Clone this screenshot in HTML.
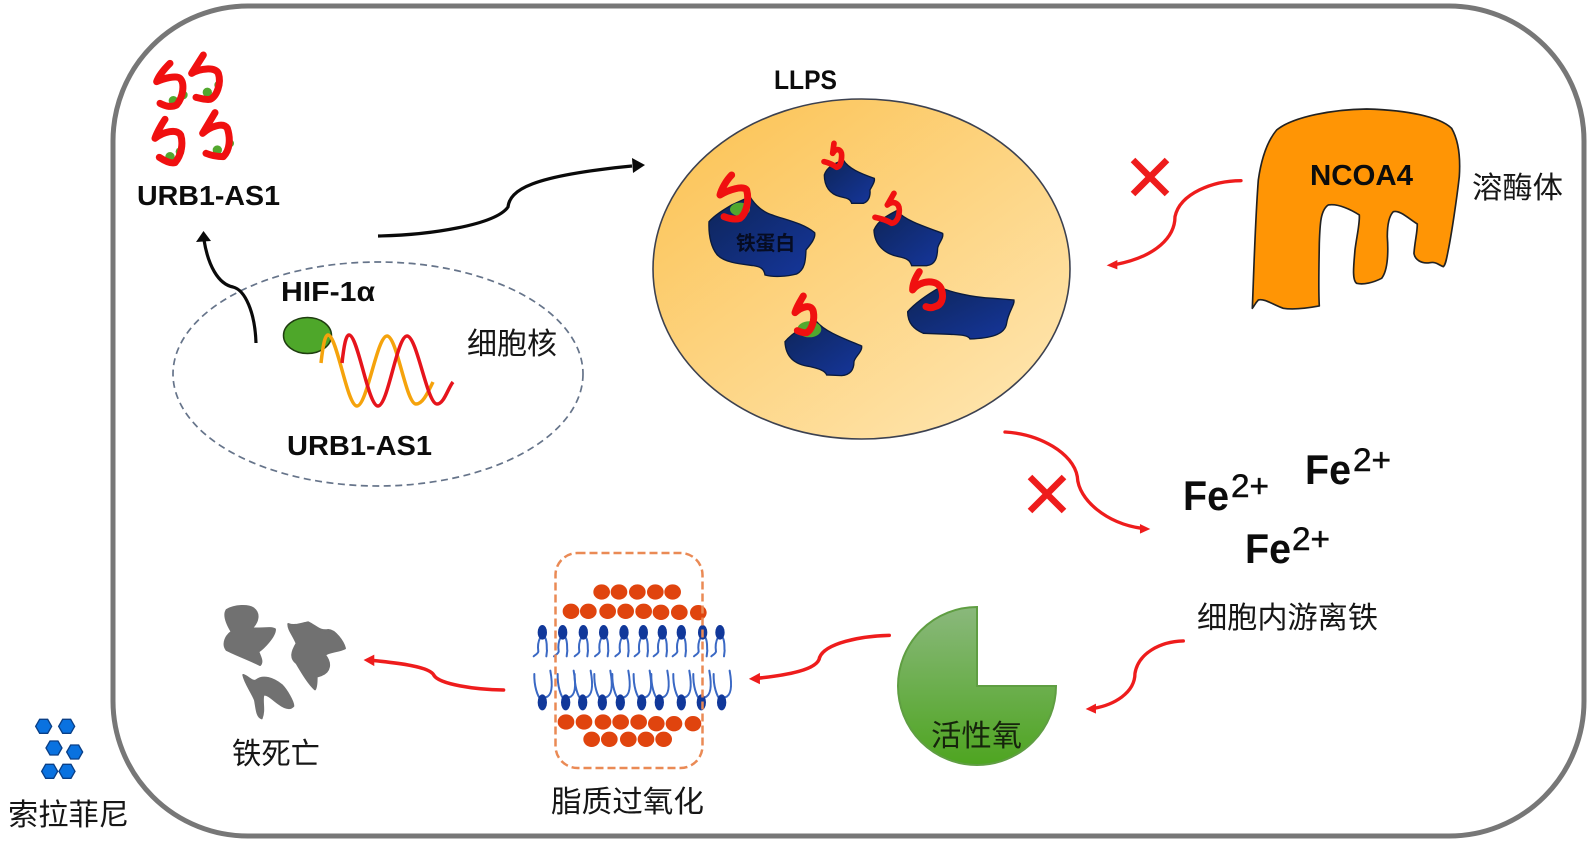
<!DOCTYPE html>
<html><head><meta charset="utf-8"><style>
html,body{margin:0;padding:0;background:#fff;width:1595px;height:844px;overflow:hidden}
svg{display:block}
.b{font-family:"Liberation Sans","Noto Sans CJK SC",sans-serif;font-weight:700;fill:#0c0c0c}
.c{font-family:"Liberation Sans","Noto Sans CJK SC",sans-serif;fill:#161616;font-size:30px}
.s{fill:none;stroke:#f01010;stroke-width:21;stroke-linecap:round;stroke-linejoin:round}
.g{fill:#52a82e}
.bl{fill:url(#blue);stroke:#0a1a3c;stroke-width:4}
.o{fill:#e0440e}
.h{fill:#0a72e0;stroke:#0a3f86;stroke-width:4}
.ra{fill:none;stroke:#ee1c1c;stroke-width:10;stroke-linecap:round}
.x{stroke:#ee1c1c;stroke-width:6.500;stroke-linecap:butt}
.t{fill:none;stroke:#3a68c4;stroke-width:6;stroke-linecap:round}
</style></head><body>
<svg width="1595" height="844" viewBox="0 0 1595 844" xmlns="http://www.w3.org/2000/svg">
<defs>
<linearGradient id="yel" x1="0.1" y1="0.1" x2="0.85" y2="0.95"><stop offset="0" stop-color="#fcc55a"/><stop offset="1" stop-color="#fee4ac"/></linearGradient>
<linearGradient id="blue" x1="0" y1="0" x2="1" y2="1"><stop offset="0" stop-color="#0e2558"/><stop offset="1" stop-color="#15369c"/></linearGradient>
<linearGradient id="grn" x1="0" y1="0" x2="0" y2="1"><stop offset="0" stop-color="#8ab87c"/><stop offset="1" stop-color="#4ea520"/></linearGradient>
<g id="lt"><path class="t" d="M-6,15 C-14,30 -14,45 -12,58 C-14,65 -22,68 -26,72 M8,15 C16,30 12,45 14,55 L12,72"/><ellipse cx="0" cy="0" rx="14" ry="22" fill="#11389a"/></g>
<g id="lb"><path class="t" d="M-4,-8 C-15,-18 -25,-50 -24,-85 M10,-15 C30,-20 32,-50 24,-95"/><ellipse cx="0" cy="0" rx="14" ry="24" fill="#11389a"/></g>
</defs>

<rect x="113" y="6" width="1471" height="830" rx="135" ry="135" fill="#fff" stroke="#777" stroke-width="5"/>

<!-- nucleus -->
<ellipse cx="378" cy="374" rx="205" ry="112" fill="none" stroke="#66748a" stroke-width="1.700" stroke-dasharray="7 4.500"/>
<ellipse cx="307.500" cy="335.500" rx="24" ry="18" fill="#4ea72a" stroke="#1f3d10" stroke-width="1.500"/>
<path d="M321,363 C323,345 325,335 328,335 C337,335 347,406 357,406 C367,406 377,336 387,336 C397,336 406,404 416,404 C423,404 428,392 433,382" fill="none" stroke="#f5a30c" stroke-width="3.500"/>
<path d="M342,363 C344,345 346,335 349,335 C358,335 368,406 378,406 C388,406 397,336 407,336 C417,336 427,404 437,404 C444,404 448,388 453,382" fill="none" stroke="#e6141c" stroke-width="3.500"/>

<!-- black arrows -->
<path d="M256,343 C255,312 245,290 233,287 C218,284 208,265 204,240" fill="none" stroke="#0a0a0a" stroke-width="3.200"/>
<polygon points="203.500,231 196,242 211,241" fill="#0a0a0a"/>
<path d="M378,236 C430,235 495,225 508,207 C510,190 530,176 632,166" fill="none" stroke="#0a0a0a" stroke-width="3.200"/>
<polygon points="645,165 632,158 633,173" fill="#0a0a0a"/>

<!-- top-left squiggles -->
<g transform="translate(120,40) scale(0.3333)">
<circle class="g" cx="160" cy="182" r="14"/><circle class="g" cx="190" cy="165" r="13"/><circle class="g" cx="262" cy="157" r="14"/><circle class="g" cx="295" cy="135" r="12"/><circle class="g" cx="150" cy="350" r="14"/><circle class="g" cx="180" cy="335" r="13"/><circle class="g" cx="292" cy="330" r="14"/><circle class="g" cx="330" cy="310" r="12"/>
<path class="s" d="M150,70 C130,90 115,110 110,125 C130,115 170,105 180,115 C195,130 190,170 170,195 C150,205 130,195 120,190"/>
<path class="s" d="M250,45 L215,100 C240,85 285,80 295,100 C305,130 290,170 270,178 C255,180 240,175 228,172"/>
<path class="s" d="M135,238 C120,260 108,285 105,295 C130,275 170,265 182,285 C190,310 185,345 165,368 C150,372 130,360 118,352"/>
<path class="s" d="M285,218 L248,280 C270,260 310,245 322,265 C332,295 330,330 310,350 C290,350 270,345 258,340"/>
</g>

<!-- LLPS -->
<ellipse cx="861.500" cy="269" rx="208.500" ry="170" fill="url(#yel)" stroke="#3c4150" stroke-width="1.600"/>
<g transform="translate(640,90) scale(0.3333)">
<path class="bl" d="M330,320 C345,345 370,368 400,376 C440,390 490,400 524,428 C528,445 510,465 498,480 C497,510 495,540 470,552 C440,560 400,562 375,555 C372,535 360,530 340,527 C300,522 255,518 232,495 C215,475 205,440 207,395 C225,375 250,360 275,345 Z"/>
<path class="bl" d="M610,210 C625,235 660,250 703,265 C706,275 695,290 690,300 C692,320 685,335 670,340 L635,340 C630,325 620,325 600,320 C570,312 553,290 553,255 C560,230 585,220 610,210Z"/>
<path class="bl" d="M770,362 C795,390 840,405 908,430 C912,445 895,460 893,475 C892,505 885,525 860,527 L815,527 C810,510 800,505 775,500 C735,492 703,465 702,420 C715,390 745,375 770,362Z"/>
<path class="bl" d="M900,592 C930,605 990,622 1060,625 L1122,630 C1125,645 1105,665 1100,700 C1095,735 1050,745 990,747 C985,735 960,735 930,733 L850,730 C822,718 803,700 803,665 C825,640 860,615 900,592Z"/>
<path class="bl" d="M530,695 C555,725 610,745 665,768 C668,785 645,800 642,815 C642,840 630,855 605,857 L560,855 C555,840 530,835 510,830 C470,825 437,805 435,755 C460,725 500,705 530,695Z"/>
<ellipse class="g" cx="300" cy="358" rx="30" ry="20"/>
<ellipse class="g" cx="508" cy="718" rx="36" ry="24"/>
<path class="s" d="M275,255 C260,270 245,295 240,315 C265,300 310,285 320,300 C328,330 320,370 300,385 C285,390 265,385 252,380"/>
<path class="s" style="stroke-width:17" d="M582,160 L578,190 C590,170 605,180 605,195 C605,215 600,230 590,232 C580,225 565,218 552,215"/>
<path class="s" style="stroke-width:17" d="M762,310 L742,345 C760,330 778,340 778,360 C778,380 770,398 755,400 C740,390 720,385 705,382"/>
<path class="s" d="M838,545 C825,565 818,585 818,600 C840,570 895,565 905,600 C912,625 905,645 885,650 C875,655 865,653 858,650"/>
<path class="s" d="M490,618 C480,635 470,650 465,668 C485,650 515,640 520,665 C525,690 515,720 500,728 C490,730 480,725 472,722"/>
</g>
<text x="736" y="250" font-size="20" font-weight="700" font-family="'Liberation Sans','Noto Sans CJK SC',sans-serif" fill="#060c22" textLength="59" lengthAdjust="spacingAndGlyphs">铁蛋白</text>

<!-- NCOA4 -->
<g transform="translate(1080,90) scale(0.3333)">
<path fill="#ff9505" stroke="#222" stroke-width="5" stroke-linejoin="round" d="M517,655 C520,590 525,400 535,270 C545,200 565,150 590,120 C640,80 760,58 860,57 C980,60 1080,80 1115,115 C1135,150 1142,200 1138,260 C1130,330 1115,430 1105,480 C1100,505 1097,525 1090,530 C1075,525 1070,515 1050,518 C1025,522 1005,510 1002,490 C1005,450 1012,430 1012,402 C985,385 960,360 940,365 C925,380 922,410 922,440 C925,480 925,540 905,565 C880,578 850,585 830,580 C815,570 822,520 825,480 C830,440 840,400 838,375 C815,360 775,340 745,345 C722,360 720,400 718,460 C717,530 715,600 718,648 C680,655 640,660 610,655 C580,645 555,625 535,630 C525,640 522,650 517,655Z"/>
<path class="ra" d="M483,272 C400,272 300,310 285,380 C285,440 230,500 105,524"/>
<polygon points="80,526 112,510 112,538" fill="#ee1c1c"/>
</g>
<path class="x" d="M1133,160 L1167,194 M1167,160 L1133,194"/>

<!-- Fe arrows -->
<g transform="translate(860,410) scale(0.3333)">
<path class="ra" d="M435,66 C540,72 640,130 652,200 C655,270 740,340 845,355"/>
<polygon points="871,357 840,342 840,371" fill="#ee1c1c"/>
<path class="ra" d="M970,693 C900,695 835,730 825,790 C825,850 760,885 702,895"/>
<polygon points="677,897 708,881 708,911" fill="#ee1c1c"/>
</g>
<path class="x" d="M1030,477 L1064,511 M1064,477 L1030,511"/>

<!-- lower arrows -->
<g transform="translate(350,620) scale(0.3571)">
<path class="ra" d="M1510,43 C1430,45 1330,65 1315,105 C1310,140 1220,155 1142,163"/>
<polygon points="1117,165 1148,148 1148,180" fill="#ee1c1c"/>
<path class="ra" d="M430,196 C350,195 250,180 235,155 C225,130 130,120 62,113"/>
<polygon points="38,112 68,97 68,129" fill="#ee1c1c"/>
</g>

<!-- pacman -->
<path d="M977,607 L977,686 L1056,686 A79,79 0 1 1 977,607 Z" fill="url(#grn)" stroke="#5f9e42" stroke-width="2"/>

<!-- lipid bilayer -->
<g transform="translate(500,530) scale(0.3333)">
<g class="o">
<ellipse cx="305" cy="186" rx="25" ry="23"/><ellipse cx="357" cy="186" rx="25" ry="23"/><ellipse cx="412" cy="186" rx="25" ry="23"/><ellipse cx="466" cy="186" rx="25" ry="23"/><ellipse cx="518" cy="186" rx="25" ry="23"/>
<ellipse cx="213" cy="244" rx="25" ry="23"/><ellipse cx="265" cy="244" rx="25" ry="23"/><ellipse cx="323" cy="244" rx="25" ry="23"/><ellipse cx="377" cy="244" rx="25" ry="23"/><ellipse cx="431" cy="244" rx="25" ry="23"/><ellipse cx="483" cy="247" rx="25" ry="23"/><ellipse cx="538" cy="247" rx="25" ry="23"/><ellipse cx="595" cy="248" rx="25" ry="23"/>
<ellipse cx="198" cy="576" rx="25" ry="23"/><ellipse cx="252" cy="576" rx="25" ry="23"/><ellipse cx="309" cy="576" rx="25" ry="23"/><ellipse cx="362" cy="576" rx="25" ry="23"/><ellipse cx="416" cy="576" rx="25" ry="23"/><ellipse cx="469" cy="581" rx="25" ry="23"/><ellipse cx="522" cy="581" rx="25" ry="23"/><ellipse cx="579" cy="581" rx="25" ry="23"/>
<ellipse cx="275" cy="628" rx="25" ry="23"/><ellipse cx="328" cy="628" rx="25" ry="23"/><ellipse cx="385" cy="628" rx="25" ry="23"/><ellipse cx="438" cy="628" rx="25" ry="23"/><ellipse cx="491" cy="628" rx="25" ry="23"/>
</g>
<use href="#lt" x="127" y="307"/><use href="#lt" x="188" y="307"/><use href="#lt" x="250" y="307"/><use href="#lt" x="311" y="307"/><use href="#lt" x="372" y="307"/><use href="#lt" x="430" y="307"/><use href="#lt" x="487" y="307"/><use href="#lt" x="544" y="307"/><use href="#lt" x="608" y="307"/><use href="#lt" x="660" y="307"/>
<use href="#lb" x="127" y="517"/><use href="#lb" x="197" y="517"/><use href="#lb" x="248" y="517"/><use href="#lb" x="307" y="517"/><use href="#lb" x="361" y="517"/><use href="#lb" x="425" y="517"/><use href="#lb" x="478" y="517"/><use href="#lb" x="544" y="517"/><use href="#lb" x="604" y="517"/><use href="#lb" x="665" y="517"/>
</g>
<rect x="555.500" y="553" width="147" height="215" rx="22" fill="none" stroke="#ea8a55" stroke-width="2.500" stroke-dasharray="8 4"/>

<!-- dead cells and drug -->
<g transform="translate(0,580) scale(0.3333)">
<g fill="#717171" stroke="#717171" stroke-width="6" stroke-linejoin="round">
<path d="M680,90 C705,75 745,75 760,85 C780,100 775,125 755,145 C780,148 815,140 825,148 C825,170 790,205 775,215 C780,230 790,245 780,255 C750,240 710,225 680,210 C665,190 680,165 695,155 C680,130 670,105 680,90Z"/>
<path d="M865,132 C885,140 905,130 925,127 C950,140 960,155 985,150 C1005,150 1030,185 1035,205 C1015,215 985,215 975,225 C995,250 990,275 965,285 L950,290 C950,305 950,320 945,328 C925,310 905,275 890,250 C870,235 875,215 890,190 C880,165 865,150 865,132Z"/>
<path d="M730,285 C745,290 760,310 770,300 C790,285 820,295 845,315 C860,330 880,365 880,378 C870,390 855,385 835,370 C815,355 800,340 790,345 C785,365 795,390 785,415 C770,410 770,385 765,360 C755,335 735,310 730,285Z"/>
</g>
<polygon class="h" points="107,439 119,418 143,418 155,439 143,460 119,460"/>
<polygon class="h" points="176,439 188,418 212,418 224,439 212,460 188,460"/>
<polygon class="h" points="138,504 150,483 174,483 186,504 174,525 150,525"/>
<polygon class="h" points="200,516 212,495 236,495 248,516 236,537 212,537"/>
<polygon class="h" points="125,574 137,553 161,553 173,574 161,595 137,595"/>
<polygon class="h" points="177,574 189,553 213,553 225,574 213,595 189,595"/>
</g>

<!-- text -->
<text class="b" x="137" y="205" font-size="28" textLength="143" lengthAdjust="spacingAndGlyphs">URB1-AS1</text>
<text class="b" x="287" y="455" font-size="28" textLength="145" lengthAdjust="spacingAndGlyphs">URB1-AS1</text>
<text class="b" x="281" y="301" font-size="28" textLength="94" lengthAdjust="spacingAndGlyphs">HIF-1α</text>
<text class="c" x="467" y="354" textLength="90" lengthAdjust="spacingAndGlyphs">细胞核</text>
<text class="b" x="774" y="89" font-size="27" textLength="63" lengthAdjust="spacingAndGlyphs">LLPS</text>
<text class="b" x="1310" y="185" font-size="29" textLength="103" lengthAdjust="spacingAndGlyphs">NCOA4</text>
<text class="c" x="1472" y="198" textLength="91" lengthAdjust="spacingAndGlyphs">溶酶体</text>
<text class="b" x="1183" y="510" font-size="42" textLength="46" lengthAdjust="spacingAndGlyphs">Fe</text>
<text class="b" x="1231" y="497" font-size="32" style="font-weight:400" stroke="#0c0c0c" stroke-width="0.500" textLength="38" lengthAdjust="spacingAndGlyphs">2+</text>
<text class="b" x="1305" y="484" font-size="42" textLength="46" lengthAdjust="spacingAndGlyphs">Fe</text>
<text class="b" x="1353" y="471" font-size="32" style="font-weight:400" stroke="#0c0c0c" stroke-width="0.500" textLength="38" lengthAdjust="spacingAndGlyphs">2+</text>
<text class="b" x="1245" y="563" font-size="42" textLength="46" lengthAdjust="spacingAndGlyphs">Fe</text>
<text class="b" x="1292" y="550" font-size="32" style="font-weight:400" stroke="#0c0c0c" stroke-width="0.500" textLength="38" lengthAdjust="spacingAndGlyphs">2+</text>
<text class="c" x="1197" y="628" textLength="181" lengthAdjust="spacingAndGlyphs">细胞内游离铁</text>
<text class="c" x="931" y="746" textLength="91" lengthAdjust="spacingAndGlyphs" style="fill:#16240c">活性氧</text>
<text class="c" x="551" y="812" textLength="153" lengthAdjust="spacingAndGlyphs">脂质过氧化</text>
<text class="c" x="232" y="764" textLength="88" lengthAdjust="spacingAndGlyphs">铁死亡</text>
<text class="c" x="8" y="825" textLength="121" lengthAdjust="spacingAndGlyphs">索拉菲尼</text>
</svg>
</body></html>
